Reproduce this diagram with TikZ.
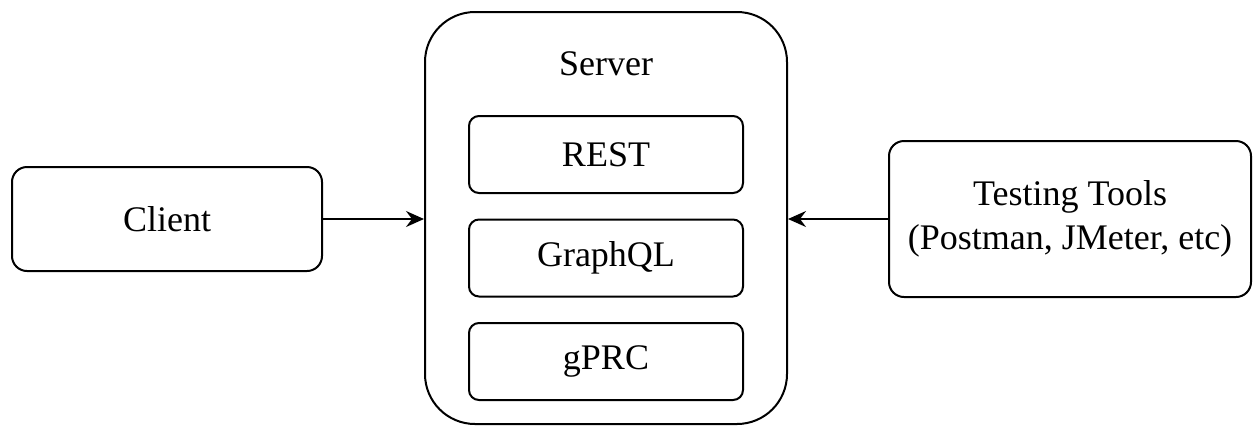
\documentclass[tikz,border=0pt]{standalone}
\usepackage{fontspec}
\setmainfont{Liberation Serif}
\usetikzlibrary{arrows.meta}

\begin{document}
\begin{tikzpicture}[x=0.5pt, y=-0.5pt,
  box/.style={draw=black, line width=1pt, fill=white, rounded corners=7.5pt,
    inner sep=0pt, font=\fontsize{18}{22}\selectfont, align=center},
  protocol/.style={box, rounded corners=5pt, minimum width=137pt, minimum height=38.5pt},
  link/.style={draw=black, line width=1pt, -{Stealth[length=9pt, width=8pt, inset=3pt]}}
]
\useasboundingbox (0,0) rectangle (1254,425);

% outer server container with its title
\node[box, rounded corners=25pt, minimum width=181pt, minimum height=206pt]
  (server) at (606,218) {};
\node[font=\fontsize{18}{22}\selectfont] (servertitle) at (606,64) {Server};

% protocol boxes inside the server
\node[protocol] (rest) at (606,154.5) {REST};
\node[protocol] (graphql) at (606,258) {GraphQL};
\node[protocol] (grpc) at (606,361.5) {gPRC};

% callers on either side
\node[box, minimum width=155pt, minimum height=52pt] (client) at (167,219) {Client};
\node[box, minimum width=181pt, minimum height=78pt] (tools) at (1070,219)
  {Testing Tools\\(Postman, JMeter, etc)};

% connections into the server
\draw[link] (client.east) -- (client.east -| server.west);
\draw[link] (tools.west) -- (tools.west -| server.east);
\end{tikzpicture}
\end{document}
